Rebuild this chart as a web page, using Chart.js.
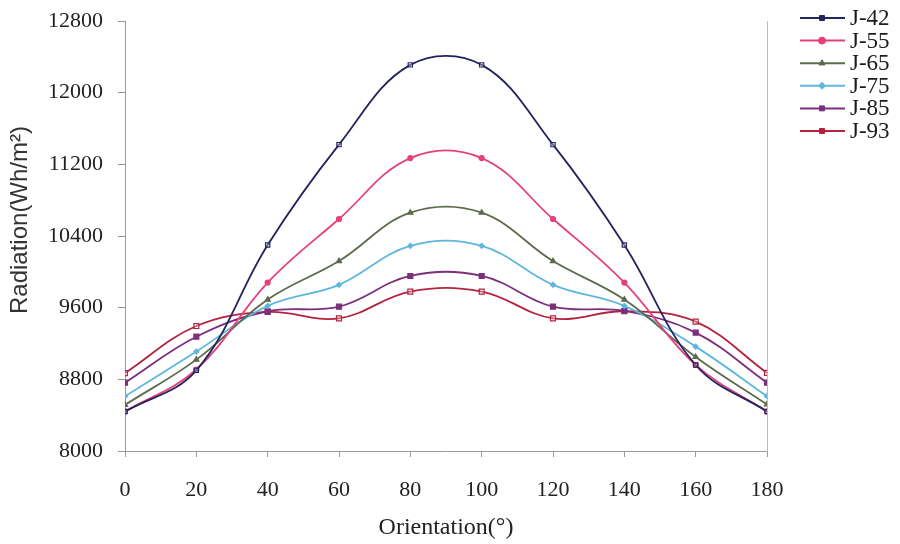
<!DOCTYPE html>
<html><head><meta charset="utf-8">
<script src="https://cdn.jsdelivr.net/npm/chart.js@4"></script>
<style>html,body{margin:0;padding:0;background:#fff}#wrap{width:900px;height:544px}</style>
</head><body><div id="wrap"><canvas id="c" width="900" height="544"></canvas></div>
<script>
const orientations = [0, 20, 40, 60, 80, 100, 120, 140, 160, 180];
const seriesNames = ["J-42", "J-55", "J-65", "J-75", "J-85", "J-93"];
const j42 = [8440, 8900, 10300, 11420, 12310, 12310, 11420, 10300, 8960, 8440];
const j55 = [8440, 8910, 9880, 10590, 11270, 11270, 10590, 9880, 8960, 8440];
const j65 = [8515, 9020, 9690, 10120, 10660, 10660, 10120, 9690, 9050, 8520];
const j75 = [8610, 9110, 9620, 9855, 10290, 10290, 9855, 9620, 9165, 8612];
const j85 = [8763, 9276, 9560, 9611, 9954, 9954, 9611, 9563, 9321, 8763];
const j93 = [8870, 9395, 9552, 9481, 9779, 9779, 9481, 9560, 9444, 8872];
const yTicks = [8000, 8800, 9600, 10400, 11200, 12000, 12800];
const xTitle = "Orientation(°)";
const yTitle = "Radiation(Wh/m²)";

const colors = ["#23235e", "#e6407a", "#5d6b4c", "#5fb6de", "#7b2f7c", "#b3223e"];
const markers = ["rect", "circle", "triangle", "rectRot", "rect", "rect"];
const mSizes = [3, 2.5, 3, 2.5, 3.5, 3.5];
const allSeries = [j42, j55, j65, j75, j85, j93];

const datasets = allSeries.map((vals, i) => ({
  label: seriesNames[i],
  data: orientations.map((x, k) => ({x: x, y: vals[k]})),
  borderColor: colors[i],
  backgroundColor: colors[i],
  pointBorderColor: colors[i],
  pointBackgroundColor: i === 0 || i === 5 ? "rgba(255,255,255,0.3)" : colors[i],
  pointStyle: markers[i],
  pointRadius: mSizes[i],
  pointBorderWidth: 1.2,
  borderWidth: 1.8,
  tension: 0.38,
  yAxisID: 'y'
}));

const legendPlugin = {
  id: 'customLegend',
  afterDraw(chart) {
    const ctx = chart.ctx;
    ctx.save();
    chart.data.datasets.forEach((ds, i) => {
      const y = 18 + i * 22.6;
      ctx.strokeStyle = ds.borderColor;
      ctx.lineWidth = 2;
      ctx.beginPath(); ctx.moveTo(800, y); ctx.lineTo(845, y); ctx.stroke();
      ctx.fillStyle = ds.borderColor;
      ctx.lineWidth = 1;
      Chart.helpers.drawPoint(ctx, {pointStyle: ds.pointStyle, radius: 3.5, borderWidth: 1}, 822, y);
      ctx.fillStyle = "#1a1a1a";
      ctx.font = "23px 'Liberation Serif'";
      ctx.textBaseline = "middle";
      ctx.textAlign = "left";
      ctx.fillText(ds.label, 850, y + 1);
    });
    // y axis title
    ctx.translate(20, 220);
    ctx.rotate(-Math.PI / 2);
    ctx.fillStyle = "#333";
    ctx.font = "24px 'Liberation Sans'";
    ctx.textAlign = "center";
    ctx.textBaseline = "middle";
    ctx.fillText(yTitle, 0, 0);
    ctx.restore();
  }
};

new Chart(document.getElementById('c'), {
  type: 'line',
  data: { datasets: datasets },
  plugins: [legendPlugin],
  options: {
    responsive: false,
    animation: false,
    layout: { padding: { top: 21, right: 133, left: 0, bottom: 0 } },
    plugins: { legend: { display: false }, tooltip: { enabled: false } },
    scales: {
      x: {
        type: 'linear', min: 0, max: 180,
        afterBuildTicks: s => { s.ticks = orientations.map(v => ({value: v})); },
        afterFit: s => { s.height = 93; s.paddingLeft = 0; s.paddingRight = 0; },
        grid: { drawOnChartArea: false, drawTicks: true, tickLength: 6, color: "#999" },
        border: { color: "#999", width: 1 },
        ticks: { color: "#222", font: { family: "'Liberation Serif'", size: 22 }, padding: 20, maxRotation: 0, callback: v => String(v) },
        title: { display: true, text: xTitle, color: "#222", font: { family: "'Liberation Serif'", size: 24 }, padding: { top: 0, bottom: 2 } }
      },
      y: {
        type: 'linear', min: 8000, max: 12800,
        afterBuildTicks: s => { s.ticks = yTicks.map(v => ({value: v})); },
        afterFit: s => { s.width = 125; s.paddingTop = 0; s.paddingBottom = 0; },
        grid: { drawOnChartArea: false, drawTicks: true, tickLength: 7, color: "#999" },
        border: { color: "#999", width: 1 },
        ticks: { color: "#222", font: { family: "'Liberation Serif'", size: 22 }, padding: 15, callback: v => String(v) },
        title: { display: false }
      },
      y2: {
        type: 'linear', position: 'right', min: 8000, max: 12800,
        afterFit: s => { s.width = 0; s.paddingTop = 0; s.paddingBottom = 0; },
        grid: { drawOnChartArea: false, drawTicks: false },
        border: { color: "#bbb", width: 1 },
        ticks: { display: false }
      }
    }
  }
});
</script></body></html>
